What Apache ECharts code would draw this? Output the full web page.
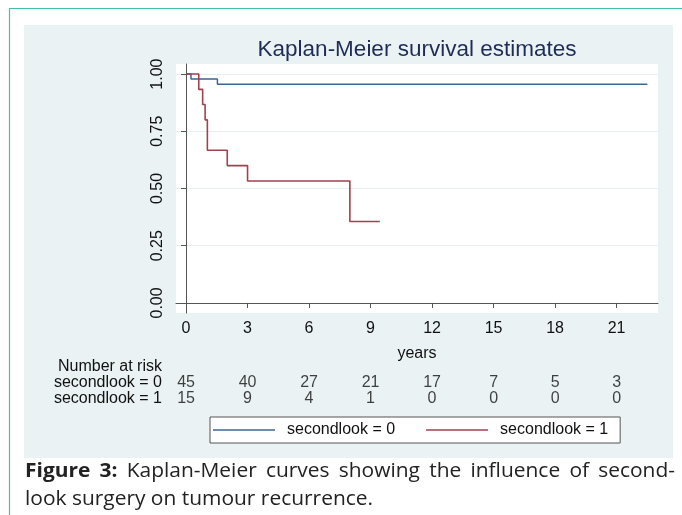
<!DOCTYPE html>
<html>
<head>
<meta charset="utf-8">
<script src="https://cdn.jsdelivr.net/npm/echarts@6/dist/echarts.min.js"></script>
<style>
  html, body { margin: 0; padding: 0; background: #fff; }
  #km { width: 682px; height: 515px; }
</style>
</head>
<body>
<div id="km"></div>
<script>
// survival steps (time in years, estimate after the step)
var timesLook0 = [0, 0.24, 1.53, 22.5];
var survLook0 = [1, 0.978, 0.956, 0.956];
var timesLook1 = [0, 0.62, 0.81, 0.93, 1.04, 2.01, 3.0, 7.99, 9.45];
var survLook1 = [1, 0.933, 0.867, 0.8, 0.667, 0.6, 0.533, 0.356, 0.356];

// axes and the number-at-risk table
var yearTicks = [0, 3, 6, 9, 12, 15, 18, 21];
var survTicks = [0, 0.25, 0.5, 0.75, 1];
var groups = ['secondlook = 0', 'secondlook = 1'];
var riskLook0 = [45, 40, 27, 21, 17, 7, 5, 3];
var riskLook1 = [15, 9, 4, 1, 0, 0, 0, 0];

var captionBold = ['Figure', '3:'];
var captionLine1 = 'Kaplan-Meier curves showing the influence of second-';
var captionLine2 = 'look surgery on tumour recurrence.';

var blue = '#3d6591';
var red = '#a3404e';
var ink = '#111';

function zip(a, b) {
  return a.map(function (v, i) { return [v, b[i]]; });
}

// caption is justified like in the journal page
var measure = document.createElement('canvas').getContext('2d');
function textWidth(t, font) {
  measure.font = font;
  return measure.measureText(t).width;
}
var capSize = 20;
var capFont = capSize + 'px "Open Sans"';
var capBoldFont = 'bold ' + capSize + 'px "Open Sans"';
var capScale = 348 / textWidth(captionLine2, capFont);
var words = captionBold.map(function (w) { return { t: w, bold: true }; })
  .concat(captionLine1.split(' ').map(function (w) { return { t: w, bold: false }; }));
var wordsWidth = 0;
words.forEach(function (w) {
  w.w = textWidth(w.t, w.bold ? capBoldFont : capFont);
  wordsWidth += w.w;
});
var gap = (650 / capScale - wordsWidth) / (words.length - 1);
var captionTexts = [];
var cx = 0;
words.forEach(function (w) {
  captionTexts.push({
    type: 'text', x: cx, y: 471,
    style: { text: w.t, font: (w.bold ? capBoldFont : capFont), fill: '#222', verticalAlign: 'middle' }
  });
  cx += w.w + gap;
});
captionTexts.push({
  type: 'text', x: 0, y: 499,
  style: { text: captionLine2, font: capFont, fill: '#222', verticalAlign: 'middle' }
});

var chart = echarts.init(document.getElementById('km'));

var xMin = -0.49, xMax = 23.02;
var yMin = -0.044, yMax = 1.044;

var option = {
  animation: false,
  textStyle: { fontFamily: 'Liberation Sans' },
  graphic: [
    { type: 'rect', z: -10, shape: { x: 24, y: 25, width: 649, height: 433 }, style: { fill: '#eaf2f3' } },
    { type: 'line', shape: { x1: 9, y1: 8.5, x2: 682, y2: 8.5 }, style: { stroke: '#45c0a6', lineWidth: 1.2 } },
    { type: 'line', shape: { x1: 9.5, y1: 8, x2: 9.5, y2: 515 }, style: { stroke: '#45c0a6', lineWidth: 1.2 } },
    {
      type: 'text', x: 417, y: 50,
      style: { text: 'Kaplan-Meier survival estimates', font: '22.5px "Liberation Sans"', fill: '#1f2c55', align: 'center', verticalAlign: 'middle' }
    },
    {
      type: 'text', x: 162, y: 367,
      style: { text: 'Number at risk', font: '16px "Liberation Sans"', fill: ink, align: 'right', verticalAlign: 'middle' }
    },
    { type: 'group', x: 25, y: 0, scaleX: capScale, children: captionTexts }
  ],
  legend: {
    data: groups,
    left: 210,
    top: 417,
    icon: 'rect',
    itemWidth: 62,
    itemHeight: 1.5,
    itemGap: 31,
    padding: [5, 12, 5, 3],
    borderColor: '#555',
    borderWidth: 1,
    borderRadius: 0,
    backgroundColor: '#fff',
    textStyle: { fontSize: 16, color: ink, padding: [0, 0, 0, 7] }
  },
  grid: [
    { left: 176, right: 24, top: 64, bottom: 202, show: true, backgroundColor: '#fff', borderWidth: 0 },
    { left: 176, right: 24, top: 375, height: 32 }
  ],
  xAxis: [
    {
      gridIndex: 0, type: 'value', min: xMin, max: xMax,
      name: 'years', nameLocation: 'middle', nameGap: 33,
      nameTextStyle: { fontSize: 16, color: ink },
      axisLine: { show: true, lineStyle: { color: '#555', width: 1 } },
      axisTick: { show: true, customValues: yearTicks, length: 5, lineStyle: { color: '#555' } },
      axisLabel: { customValues: yearTicks, fontSize: 16, color: ink, margin: 8 },
      splitLine: { show: false }
    },
    { gridIndex: 1, type: 'value', min: xMin, max: xMax, show: false }
  ],
  yAxis: [
    {
      gridIndex: 0, type: 'value', min: yMin, max: yMax,
      axisLine: { show: true, lineStyle: { color: '#555', width: 1 } },
      axisTick: { show: true, customValues: survTicks, length: 5, lineStyle: { color: '#555' } },
      axisLabel: {
        customValues: survTicks, rotate: 90, margin: 10, fontSize: 16, color: ink,
        formatter: function (v) { return v.toFixed(2); }
      },
      splitLine: { show: true, lineStyle: { color: '#e6eff1', width: 1 } }
    },
    {
      gridIndex: 1, type: 'category', data: groups, inverse: true,
      axisLine: { show: false }, axisTick: { show: false },
      axisLabel: { interval: 0, fontSize: 16, color: ink, margin: 14 },
      splitLine: { show: false }
    }
  ],
  series: [
    {
      name: groups[0], type: 'line', step: 'end', showSymbol: false,
      data: zip(timesLook0, survLook0),
      lineStyle: { color: blue, width: 1.5 }, itemStyle: { color: blue }
    },
    {
      name: groups[1], type: 'line', step: 'end', showSymbol: false,
      data: zip(timesLook1, survLook1),
      lineStyle: { color: red, width: 1.6 }, itemStyle: { color: red }
    },
    {
      name: 'risk0', type: 'scatter', xAxisIndex: 1, yAxisIndex: 1,
      symbolSize: 1, itemStyle: { color: 'transparent' },
      data: yearTicks.map(function (t, i) { return [t, groups[0], riskLook0[i]]; }),
      label: { show: true, position: 'inside', fontSize: 16, color: ink, formatter: function (p) { return p.value[2]; } }
    },
    {
      name: 'risk1', type: 'scatter', xAxisIndex: 1, yAxisIndex: 1,
      symbolSize: 1, itemStyle: { color: 'transparent' },
      data: yearTicks.map(function (t, i) { return [t, groups[1], riskLook1[i]]; }),
      label: { show: true, position: 'inside', fontSize: 16, color: ink, formatter: function (p) { return p.value[2]; } }
    }
  ]
};

chart.setOption(option);
</script>
</body>
</html>
